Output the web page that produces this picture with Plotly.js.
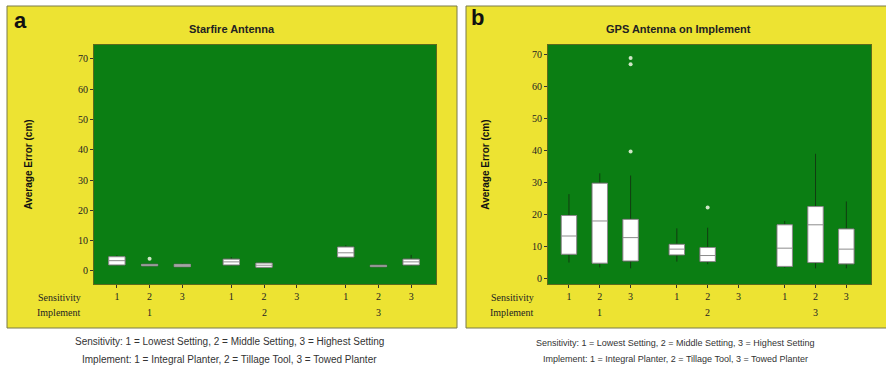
<!DOCTYPE html>
<html><head><meta charset="utf-8">
<script src="https://cdn.plot.ly/plotly-3.0.1.min.js"></script>
<style>html,body{margin:0;padding:0;background:#fff}#chart{width:886px;height:370px}</style>
</head><body><div id="chart"></div>
<script>
// Category order: Implement 1 (Sens 1,2,3), Implement 2 (Sens 1,2,3), Implement 3 (Sens 1,2,3)
const implementLabels = ['1', '2', '3'];
const sensitivityLabels = ['1', '2', '3'];

// Panel a: Starfire Antenna (cm)
const aQ1     = [2.0, 1.7, 1.4, 2.0, 1.2, null, 4.6, 1.4, 2.0];
const aMedian = [3.4, 2.0, 1.7, 3.0, 1.9, null, 6.0, 1.65, 3.0];
const aQ3     = [4.7, 2.2, 2.2, 3.9, 2.6, null, 7.9, 1.9, 3.9];
const aLow    = [1.8, 1.6, 1.3, 1.8, 1.1, null, 4.3, 1.3, 1.7];
const aHigh   = [5.2, 2.3, 2.5, 4.6, 2.8, null, 8.5, 2.0, 5.3];
const aOutIdx = [1];
const aOutY   = [4.0];

// Panel b: GPS Antenna on Implement (cm)
const bQ1     = [7.7, 4.9, 5.6, 7.5, 5.4, null, 3.9, 5.1, 4.7];
const bMedian = [13.4, 18.1, 12.9, 9.3, 7.3, null, 9.6, 16.9, 9.3];
const bQ3     = [19.8, 29.9, 18.6, 10.8, 9.8, null, 16.9, 22.6, 15.6];
const bLow    = [5.1, 3.6, 3.3, 5.4, 4.6, null, 3.5, 3.3, 3.3];
const bHigh   = [26.5, 33.0, 32.3, 15.8, 16.0, null, 18.1, 39.1, 24.2];
const bOutIdx = [2, 2, 2, 4];
const bOutY   = [39.8, 67.1, 69.0, 22.3];

const captionSens = 'Sensitivity: 1 = Lowest Setting, 2 = Middle Setting, 3 = Highest Setting';
const captionImp = 'Implement: 1 = Integral Planter, 2 = Tillage Tool, 3 = Towed Planter';

const GROUP_STEP = 3.5;
const pos = i => Math.floor(i / 3) * GROUP_STEP + (i % 3);
const allPos = [0,1,2,3,4,5,6,7,8].map(pos);
const allTickText = [0,1,2,3,4,5,6,7,8].map(i => sensitivityLabels[i % 3]);

const YELLOW = '#ede332';
const GREEN = '#0b7e13';

function boxTraces(q1, med, q3, lo, hi, xa, ya) {
  const idx = q1.map((v, i) => v === null ? -1 : i).filter(i => i >= 0);
  const x = idx.map(pos);
  const whisk = {
    type: 'box', x: x, q1: idx.map(i => q1[i]), median: idx.map(i => med[i]), q3: idx.map(i => q3[i]),
    lowerfence: idx.map(i => lo[i]), upperfence: idx.map(i => hi[i]),
    width: 0.5, whiskerwidth: 0, boxpoints: false, fillcolor: '#ffffff',
    line: {color: '#123c12', width: 1}, xaxis: xa, yaxis: ya, hoverinfo: 'skip', showlegend: false
  };
  const body = {
    type: 'box', x: x, q1: idx.map(i => q1[i]), median: idx.map(i => med[i]), q3: idx.map(i => q3[i]),
    lowerfence: idx.map(i => q1[i]), upperfence: idx.map(i => q3[i]),
    width: 0.5, whiskerwidth: 0, boxpoints: false, fillcolor: '#ffffff',
    line: {color: '#8c8c8c', width: 1}, xaxis: xa, yaxis: ya, hoverinfo: 'skip', showlegend: false
  };
  return [whisk, body];
}
function outTrace(oi, oy, xa, ya) {
  return {type: 'scatter', mode: 'markers', x: oi.map(pos), y: oy,
    marker: {color: '#cfe6c6', size: 4, symbol: 'circle'}, xaxis: xa, yaxis: ya, showlegend: false, hoverinfo: 'skip'};
}

const data = [
  ...boxTraces(aQ1, aMedian, aQ3, aLow, aHigh, 'x', 'y'),
  outTrace(aOutIdx, aOutY, 'x', 'y'),
  ...boxTraces(bQ1, bMedian, bQ3, bLow, bHigh, 'x2', 'y2'),
  outTrace(bOutIdx, bOutY, 'x2', 'y2')
];

const W = 886, H = 370;
const px = v => v / W;
const py = v => 1 - v / H;
const tickFont = {family: 'Liberation Serif, serif', size: 10, color: '#222'};

function xAxis(d0, d1, range, anchor) {
  return {domain: [px(d0), px(d1)], range: range, anchor: anchor, tickmode: 'array',
    tickvals: allPos, ticktext: allTickText, ticks: 'outside', ticklen: 3, tickcolor: '#333',
    tickfont: tickFont, showgrid: false, zeroline: false, showline: true, mirror: true,
    linecolor: '#5c6a1c', linewidth: 1, fixedrange: true};
}
function yAxis(range, anchor, titleStandoff) {
  return {domain: [py(284), py(45)], range: range, anchor: anchor, tickvals: [0,10,20,30,40,50,60,70],
    ticks: 'outside', ticklen: 3, tickcolor: '#333', tickfont: tickFont, showgrid: false,
    zeroline: false, showline: true, mirror: true, linecolor: '#5c6a1c', linewidth: 1,
    title: {text: 'Average Error (cm)', font: {family: 'Liberation Sans, Arial', size: 10, color: '#111', weight: 'bold'}, standoff: titleStandoff},
    fixedrange: true};
}

const ann = [];
function addText(text, x, y, opts) {
  ann.push(Object.assign({text: text, x: x, y: y, xref: 'paper', yref: 'paper', showarrow: false,
    xanchor: 'center', yanchor: 'middle',
    font: {family: 'Liberation Sans, Arial', size: 10, color: '#222'}}, opts || {}));
}
// Panel letters and titles
addText('<b>a</b>', px(20), py(20), {font: {family: 'Liberation Sans, Arial', size: 22, color: '#111'}});
addText('<b>b</b>', px(477), py(18), {font: {family: 'Liberation Sans, Arial', size: 22, color: '#111'}});
addText('<b>Starfire Antenna</b>', px(232), py(29), {font: {family: 'Liberation Sans, Arial', size: 11, color: '#222'}});
addText('<b>GPS Antenna on Implement</b>', px(678), py(29), {font: {family: 'Liberation Sans, Arial', size: 11, color: '#222'}});
// Row labels
[[83, 'x'], [536, 'x2']].forEach(([rx, xr]) => {
  addText('Sensitivity', px(rx), py(297), {xanchor: 'right', font: tickFont});
  addText('Implement', px(rx), py(312), {xanchor: 'right', font: tickFont});
  implementLabels.forEach((lab, g) => {
    ann.push({text: lab, x: pos(g * 3 + 1), y: py(312), xref: xr, yref: 'paper', showarrow: false,
      xanchor: 'center', yanchor: 'middle', font: tickFont});
  });
});
// Captions
addText(captionSens, px(229), py(341), {font: {family: 'Liberation Sans, Arial', size: 10, color: '#333'}});
addText(captionImp, px(229), py(359), {font: {family: 'Liberation Sans, Arial', size: 10, color: '#333'}});
addText(captionSens, px(675), py(343), {font: {family: 'Liberation Sans, Arial', size: 9, color: '#333'}});
addText(captionImp, px(675), py(359), {font: {family: 'Liberation Sans, Arial', size: 9, color: '#333'}});

const layout = {
  width: W, height: H, margin: {l: 0, r: 0, t: 0, b: 0},
  paper_bgcolor: '#ffffff', plot_bgcolor: GREEN,
  xaxis: xAxis(94, 436, [-0.7, 9.76], 'y'),
  yaxis: yAxis([-4.3, 74.6], 'x', 43),
  xaxis2: xAxis(548, 871, [-0.68, 9.8], 'y2'),
  yaxis2: yAxis([-1.6, 73.1], 'x2', 40),
  shapes: [
    {type: 'rect', xref: 'paper', yref: 'paper', x0: px(7), x1: px(457), y0: py(328), y1: py(6),
      fillcolor: YELLOW, line: {color: '#7b7a4a', width: 1}, layer: 'below'},
    {type: 'rect', xref: 'paper', yref: 'paper', x0: px(466), x1: px(890), y0: py(328), y1: py(6),
      fillcolor: YELLOW, line: {color: '#7b7a4a', width: 1}, layer: 'below'},
    {type: 'rect', xref: 'x domain', yref: 'y domain', x0: 0, x1: 1, y0: 0, y1: 1,
      fillcolor: GREEN, line: {width: 0}, layer: 'below'},
    {type: 'rect', xref: 'x2 domain', yref: 'y2 domain', x0: 0, x1: 1, y0: 0, y1: 1,
      fillcolor: GREEN, line: {width: 0}, layer: 'below'}
  ],
  annotations: ann,
  showlegend: false
};
Plotly.newPlot('chart', data, layout, {displayModeBar: false, staticPlot: true});
</script></body></html>
